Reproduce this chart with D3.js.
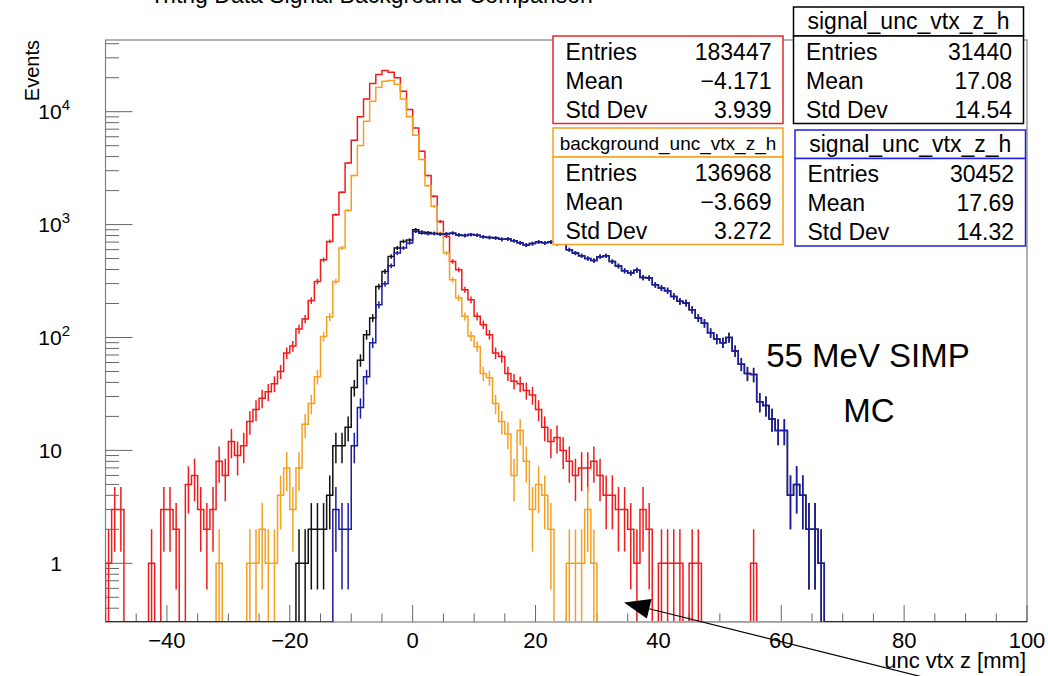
<!DOCTYPE html>
<html>
<head>
<meta charset="utf-8">
<script src="https://cdn.jsdelivr.net/npm/d3@7"></script>
<style>
  html, body { margin: 0; padding: 0; background: #fff; }
  svg { display: block; }
  text { font-family: "Liberation Sans", Arial, Helvetica, sans-serif; }
</style>
</head>
<body>
<svg id="chart" width="1048" height="676"></svg>
<script>
// Histogram binning: 150 bins of 1 mm from -50 mm to 100 mm
const binStart = -50;
const binWidth = 1;

// Bin contents, first entry is the bin [-50, -49)
const backgroundTotal = [
  1, 3, 3, 0, 0, 0, 0, 1, 0, 3,
  3, 2, 0, 5, 6, 3, 2, 3, 8, 6,
  12, 9, 11, 18, 23, 29, 33, 39, 50, 73,
  84, 119, 146, 213, 314, 489, 710, 1224, 1931, 3520,
  5580, 9000, 12980, 17730, 21320, 23130, 22350, 19950, 15180, 10440,
  7180, 4460, 2716, 1778, 1067, 787, 472, 398, 265, 216,
  154, 130, 106, 73, 68, 48, 41, 39, 34, 31,
  23, 16, 12, 13, 10, 8, 6, 7, 7, 8,
  6, 4, 4, 3, 3, 2, 1, 3, 2, 0,
  1, 1, 1, 1, 0, 1, 1, 0, 0, 0,
  0, 0, 0, 0, 0, 1, 0, 0, 0, 0,
  0, 0, 0, 0, 0, 0, 0, 0, 0, 0,
  0, 0, 0, 0, 0, 0, 0, 0, 0, 0,
  0, 0, 0, 0, 0, 0, 0, 0, 0, 0,
  0, 0, 0, 0, 0, 0, 0, 0, 0, 0
];

const backgroundUncVtxZ = [
  0, 0, 0, 0, 0, 0, 0, 0, 0, 0,
  0, 0, 0, 0, 0, 0, 0, 0, 1, 0,
  0, 0, 0, 1, 1, 2, 1, 1, 4, 7,
  3, 7, 17, 26, 45, 102, 152, 314, 621, 1336,
  2716, 5010, 8220, 12360, 16440, 18620, 18870, 17500, 12980, 9000,
  6180, 3770, 2213, 1450, 843, 560, 325, 224, 154, 103,
  83, 48, 44, 26, 18, 14, 6, 15, 8, 3,
  5, 4, 2, 0, 0, 1, 1, 1, 3, 1,
  0, 0, 0, 0, 0, 0, 0, 0, 0, 0,
  0, 0, 0, 0, 0, 0, 0, 0, 0, 0,
  0, 0, 0, 0, 0, 0, 0, 0, 0, 0,
  0, 0, 0, 0, 0, 0, 0, 0, 0, 0,
  0, 0, 0, 0, 0, 0, 0, 0, 0, 0,
  0, 0, 0, 0, 0, 0, 0, 0, 0, 0,
  0, 0, 0, 0, 0, 0, 0, 0, 0, 0
];

const signalUncVtxZ = [
  0, 0, 0, 0, 0, 0, 0, 0, 0, 0,
  0, 0, 0, 0, 0, 0, 0, 0, 0, 0,
  0, 0, 0, 0, 0, 0, 0, 0, 0, 0,
  0, 1, 1, 2, 2, 2, 4, 11, 11, 16,
  36, 63, 106, 149, 283, 385, 522, 621, 710, 730,
  901, 860, 850, 835, 820, 830, 840, 810, 800, 815,
  805, 780, 770, 760, 740, 745, 720, 690, 660, 680,
  700, 690, 700, 680, 690, 600, 560, 530, 500, 480,
  520, 530, 470, 430, 390, 372, 395, 340, 336, 293,
  274, 260, 231, 209, 202, 176, 149, 134, 110, 97,
  90, 100, 76, 58, 48, 47, 27, 25, 19, 15,
  15, 4, 5, 4, 2, 2, 1, 0, 0, 0,
  0, 0, 0, 0, 0, 0, 0, 0, 0, 0,
  0, 0, 0, 0, 0, 0, 0, 0, 0, 0,
  0, 0, 0, 0, 0, 0, 0, 0, 0, 0
];

const signalUncVtxZSel = [
  0, 0, 0, 0, 0, 0, 0, 0, 0, 0,
  0, 0, 0, 0, 0, 0, 0, 0, 0, 0,
  0, 0, 0, 0, 0, 0, 0, 0, 0, 0,
  0, 0, 0, 0, 0, 0, 0, 3, 2, 2,
  11, 24, 45, 90, 195, 299, 432, 560, 621, 688,
  870, 840, 830, 835, 820, 830, 840, 810, 800, 815,
  805, 780, 770, 760, 740, 745, 720, 690, 660, 680,
  700, 690, 700, 680, 690, 600, 560, 530, 500, 480,
  520, 530, 470, 430, 390, 372, 395, 340, 336, 293,
  274, 260, 231, 209, 202, 176, 149, 134, 110, 97,
  90, 100, 76, 58, 48, 47, 27, 25, 19, 15,
  15, 4, 5, 4, 2, 2, 1, 0, 0, 0,
  0, 0, 0, 0, 0, 0, 0, 0, 0, 0,
  0, 0, 0, 0, 0, 0, 0, 0, 0, 0,
  0, 0, 0, 0, 0, 0, 0, 0, 0, 0
];

// Axis ticks
const xTickLabels = [-40, -20, 0, 20, 40, 60, 80, 100];
const yTickLabels = [1, 10, 100, 1000, 10000];

// Statistics box contents
const statNames = [null, "background_unc_vtx_z_h", "signal_unc_vtx_z_h", "signal_unc_vtx_z_h"];
const statEntries = ["183447", "136968", "31440", "30452"];
const statMeans = ["\u22124.171", "\u22123.669", "17.08", "17.69"];
const statStdDevs = ["3.939", "3.272", "14.54", "14.32"];

const svg = d3.select("#chart");
const frame = { left: 105.5, right: 1027, top: 40, bottom: 622 };

const x = d3.scaleLinear().domain([-50, 100]).range([frame.left, frame.right]);
const y = d3.scaleLog().domain([0.302, 43150]).range([frame.bottom, frame.top]);
const yMin = y.domain()[0];

// Chart title (runs off the top edge of the canvas)
svg.append("text")
  .attr("x", 150).attr("y", 3)
  .attr("font-size", 23)
  .text("Tritrig Data Signal Background Comparison");

// Frame
svg.append("rect")
  .attr("x", frame.left).attr("y", frame.top)
  .attr("width", frame.right - frame.left).attr("height", frame.bottom - frame.top)
  .attr("fill", "#fff").attr("stroke", "#808080").attr("stroke-width", 1.2);

svg.append("defs").append("clipPath").attr("id", "plotClip")
  .append("rect")
  .attr("x", frame.left).attr("y", frame.top - 1)
  .attr("width", frame.right - frame.left).attr("height", frame.bottom - frame.top + 1);

// X axis ticks: primary every 20, secondary every 5, pointing inward
const xMinor = d3.range(-50, 100.001, 5);
svg.append("g").selectAll("line").data(xMinor).join("line")
  .attr("x1", d => x(d)).attr("x2", d => x(d))
  .attr("y1", frame.bottom)
  .attr("y2", d => frame.bottom - (d % 20 === 0 ? 17 : 8.5))
  .attr("stroke", "#666").attr("stroke-width", 1);

svg.append("g").selectAll("text").data(xTickLabels).join("text")
  .attr("x", d => x(d)).attr("y", 648)
  .attr("text-anchor", "middle").attr("font-size", 22)
  .text(d => d < 0 ? "\u2212" + Math.abs(d) : d);

// Y axis ticks: decades long, 2..9 short
const yMinor = [];
for (let e = -1; e <= 4; e++) {
  for (let m = 1; m <= 9; m++) {
    const v = m * Math.pow(10, e);
    if (v >= yMin && v <= y.domain()[1]) yMinor.push({ v, major: m === 1 });
  }
}
svg.append("g").selectAll("line").data(yMinor).join("line")
  .attr("x1", frame.left).attr("x2", d => frame.left + (d.major ? 27 : 13.5))
  .attr("y1", d => y(d.v)).attr("y2", d => y(d.v))
  .attr("stroke", "#666").attr("stroke-width", 1);

const yLab = svg.append("g").selectAll("text").data(yTickLabels).join("text")
  .attr("font-size", 21)
  .attr("text-anchor", "end")
  .attr("y", d => y(d) + 7.5);
yLab.each(function (d) {
  const t = d3.select(this);
  const p = Math.round(Math.log10(d));
  if (p <= 1) {
    t.attr("x", 62).text(d);
  } else {
    t.attr("x", 70);
    t.append("tspan").text("10");
    t.append("tspan").attr("dy", -9).attr("font-size", 15).text(p);
  }
});

// Axis titles
svg.append("text")
  .attr("transform", "translate(39,40) rotate(-90)")
  .attr("text-anchor", "end").attr("font-size", 20)
  .text("Events");

svg.append("text")
  .attr("x", 1026).attr("y", 668)
  .attr("text-anchor", "end").attr("font-size", 22)
  .text("unc vtx z [mm]");

// Histograms
const plot = svg.append("g").attr("clip-path", "url(#plotClip)");
const level = v => (v > yMin ? y(v) : frame.bottom);

function stepPoints(vals) {
  const pts = [[binStart, 0]];
  vals.forEach((v, i) => pts.push([binStart + i * binWidth, v]));
  pts.push([binStart + vals.length * binWidth, vals[vals.length - 1]]);
  pts.push([binStart + vals.length * binWidth, 0]);
  return pts;
}
const stepLine = d3.line()
  .x(d => x(d[0]))
  .y(d => level(d[1]))
  .curve(d3.curveStepAfter);

const series = [
  { vals: backgroundTotal, color: "#ee1c1c" },
  { vals: backgroundUncVtxZ, color: "#f5a020" },
  { vals: signalUncVtxZ, color: "#111111" },
  { vals: signalUncVtxZSel, color: "#1c1ca0" }
];

series.forEach(s => {
  plot.append("path")
    .attr("d", stepLine(stepPoints(s.vals)))
    .attr("fill", "none").attr("stroke", s.color).attr("stroke-width", 1.5);
  const errs = s.vals.map((v, i) => ({ v, c: binStart + (i + 0.5) * binWidth })).filter(d => d.v > 0);
  plot.append("g").selectAll("line").data(errs).join("line")
    .attr("x1", d => x(d.c)).attr("x2", d => x(d.c))
    .attr("y1", d => level(d.v - Math.sqrt(d.v)))
    .attr("y2", d => level(d.v + Math.sqrt(d.v)))
    .attr("stroke", s.color).attr("stroke-width", 1.5);
});

// Annotation text
svg.append("text")
  .attr("x", 868).attr("y", 367)
  .attr("text-anchor", "middle").attr("font-size", 33)
  .attr("font-family", "DejaVu Sans")
  .text("55 MeV SIMP");
svg.append("text")
  .attr("x", 869).attr("y", 422)
  .attr("text-anchor", "middle").attr("font-size", 33)
  .attr("font-family", "DejaVu Sans")
  .text("MC");

// Arrow pointing at the background tail (data coordinates: x in mm, y in events)
const arrowTip = [34.4, 0.45];
const arrowTail = [85.5, 0.091];
const ax0 = x(arrowTail[0]), ay0 = y(arrowTail[1]);
const ax1 = x(arrowTip[0]), ay1 = y(arrowTip[1]);
const ang = Math.atan2(ay1 - ay0, ax1 - ax0);
const headLen = 26, headHalf = 10;
const bx = ax1 - headLen * Math.cos(ang), by = ay1 - headLen * Math.sin(ang);
svg.append("line")
  .attr("x1", ax0).attr("y1", ay0).attr("x2", bx).attr("y2", by)
  .attr("stroke", "#000").attr("stroke-width", 1.2);
svg.append("path")
  .attr("d", `M${ax1},${ay1}L${bx + headHalf * Math.sin(ang)},${by - headHalf * Math.cos(ang)}L${bx - headHalf * Math.sin(ang)},${by + headHalf * Math.cos(ang)}Z`)
  .attr("fill", "#000");

// Statistics boxes
const boxLayout = [
  { x0: 553, x1: 783, titleTop: null, top: 36, bottom: 123.5, color: "#e8282a", fs: 23 },
  { x0: 553, x1: 783, titleTop: 128, top: 157, bottom: 244.5, color: "#f5a020", fs: 19 },
  { x0: 793.5, x1: 1023.5, titleTop: 7, top: 36, bottom: 123.5, color: "#000000", fs: 23 },
  { x0: 795, x1: 1025.5, titleTop: 130, top: 158.5, bottom: 246, color: "#2020e0", fs: 23 }
];
const rowLabels = ["Entries", "Mean", "Std Dev"];

boxLayout.forEach((b, k) => {
  const g = svg.append("g");
  if (b.titleTop !== null) {
    g.append("rect")
      .attr("x", b.x0).attr("y", b.titleTop).attr("width", b.x1 - b.x0).attr("height", b.top - b.titleTop)
      .attr("fill", "#fff").attr("stroke", b.color).attr("stroke-width", 1.5);
    g.append("text")
      .attr("x", (b.x0 + b.x1) / 2).attr("y", b.top - 7)
      .attr("text-anchor", "middle").attr("font-size", b.fs)
      .text(statNames[k]);
  }
  g.append("rect")
    .attr("x", b.x0).attr("y", b.top).attr("width", b.x1 - b.x0).attr("height", b.bottom - b.top)
    .attr("fill", "#fff").attr("stroke", b.color).attr("stroke-width", 1.5);
  const vals = [statEntries[k], statMeans[k], statStdDevs[k]];
  rowLabels.forEach((lab, r) => {
    const by0 = b.top + 23.5 + r * 29;
    g.append("text").attr("x", b.x0 + 12.5).attr("y", by0).attr("font-size", 23).text(lab);
    g.append("text").attr("x", b.x1 - 11.5).attr("y", by0).attr("font-size", 23)
      .attr("text-anchor", "end").text(vals[r]);
  });
});
</script>
</body>
</html>
